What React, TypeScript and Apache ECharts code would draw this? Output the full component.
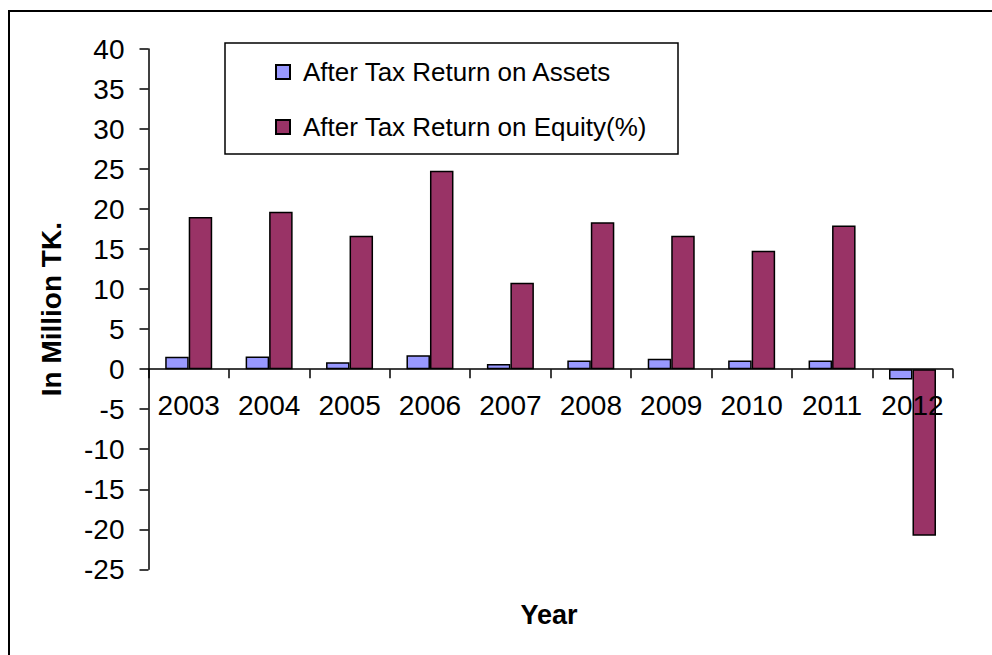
import React, { useEffect, useRef } from "react";
import * as echarts from "echarts";

const years = ["2003", "2004", "2005", "2006", "2007", "2008", "2009", "2010", "2011", "2012"];
const assetsReturn = [1.54, 1.58, 0.87, 1.75, 0.66, 1.08, 1.29, 1.08, 1.08, -1.3];
const equityReturn = [19.0, 19.66, 16.66, 24.79, 10.8, 18.37, 16.66, 14.79, 17.95, -20.8];
const seriesNames = ["After Tax Return on Assets", "After Tax Return on Equity(%)"];
const yMin = -25;
const yMax = 40;
const yInterval = 5;

const FONT = "'Liberation Sans', Arial, sans-serif";

export default function App() {
  const ref = useRef<HTMLDivElement>(null);
  useEffect(() => {
    document.body.style.margin = "0";
    if (!ref.current) return;
    const chart = echarts.init(ref.current, undefined, { renderer: "svg" });
    const gridTop = 49;
    const gridBottom = 85.7;
    const plotH = 655 - gridTop - gridBottom;
    // shift the x axis (line, ticks, labels) up from the grid bottom to the zero line
    const zeroOffset = -plotH * (0 - yMin) / (yMax - yMin);
    chart.setOption({
      animation: false,
      backgroundColor: "#ffffff",
      textStyle: { fontFamily: FONT, color: "#000" },
      graphic: [
        {
          type: "rect",
          shape: { x: 9, y: 11, width: 1000, height: 700 },
          style: { fill: "none", stroke: "#000", lineWidth: 2 },
          silent: true,
          z: 0,
        },
        {
          type: "rect",
          shape: { x: 225, y: 43, width: 453, height: 111 },
          style: { fill: "#fff", stroke: "#000", lineWidth: 1.5 },
          silent: true,
          z: 1,
        },
        {
          type: "text",
          x: 549,
          y: 615,
          style: {
            text: "Year",
            fontFamily: FONT,
            fontSize: 27,
            fontWeight: "bold",
            fill: "#000",
            align: "center",
            verticalAlign: "middle",
          },
          silent: true,
        },
      ],
      legend: {
        orient: "vertical",
        left: 275,
        top: 59,
        padding: 0,
        itemWidth: 14,
        itemHeight: 14,
        itemGap: 29,
        icon: "rect",
        z: 5,
        textStyle: { fontFamily: FONT, fontSize: 26, color: "#000", padding: [0, 0, 0, 8] },
        data: seriesNames,
      },
      grid: {
        left: 148.5,
        right: 39.3,
        top: gridTop,
        bottom: gridBottom,
        containLabel: false,
        outerBoundsMode: "none",
      },
      xAxis: {
        type: "category",
        data: years,
        offset: zeroOffset,
        z: 4,
        axisLine: { onZero: false, lineStyle: { color: "#000", width: 1.5 } },
        axisTick: { show: true, alignWithLabel: false, interval: 0, length: 9, lineStyle: { color: "#000", width: 1.5 } },
        axisLabel: { fontFamily: FONT, fontSize: 28, color: "#000", margin: 22, interval: 0, hideOverlap: false },
        splitLine: { show: false },
      },
      yAxis: {
        type: "value",
        min: yMin,
        max: yMax,
        interval: yInterval,
        name: "In Million TK.",
        nameLocation: "middle",
        nameRotate: 90,
        nameGap: 83,
        nameTextStyle: { fontFamily: FONT, fontSize: 28, fontWeight: "bold", color: "#000" },
        axisLine: { show: true, lineStyle: { color: "#000", width: 1.5 } },
        axisTick: { show: true, length: 9, lineStyle: { color: "#000", width: 1.5 } },
        axisLabel: { fontFamily: FONT, fontSize: 28, color: "#000", margin: 24 },
        splitLine: { show: false },
      },
      series: [
        {
          name: seriesNames[0],
          type: "bar",
          data: assetsReturn,
          barWidth: 23.5,
          barGap: "0%",
          itemStyle: { color: "#9999FF", borderColor: "#000", borderWidth: 1.5 },
        },
        {
          name: seriesNames[1],
          type: "bar",
          data: equityReturn,
          barWidth: 23.5,
          barGap: "0%",
          itemStyle: { color: "#993366", borderColor: "#000", borderWidth: 1.5 },
        },
      ],
    });
    return () => chart.dispose();
  }, []);
  return (
    <div
      ref={ref}
      style={{ position: "absolute", left: 0, top: 0, width: 992, height: 655 }}
    />
  );
}
